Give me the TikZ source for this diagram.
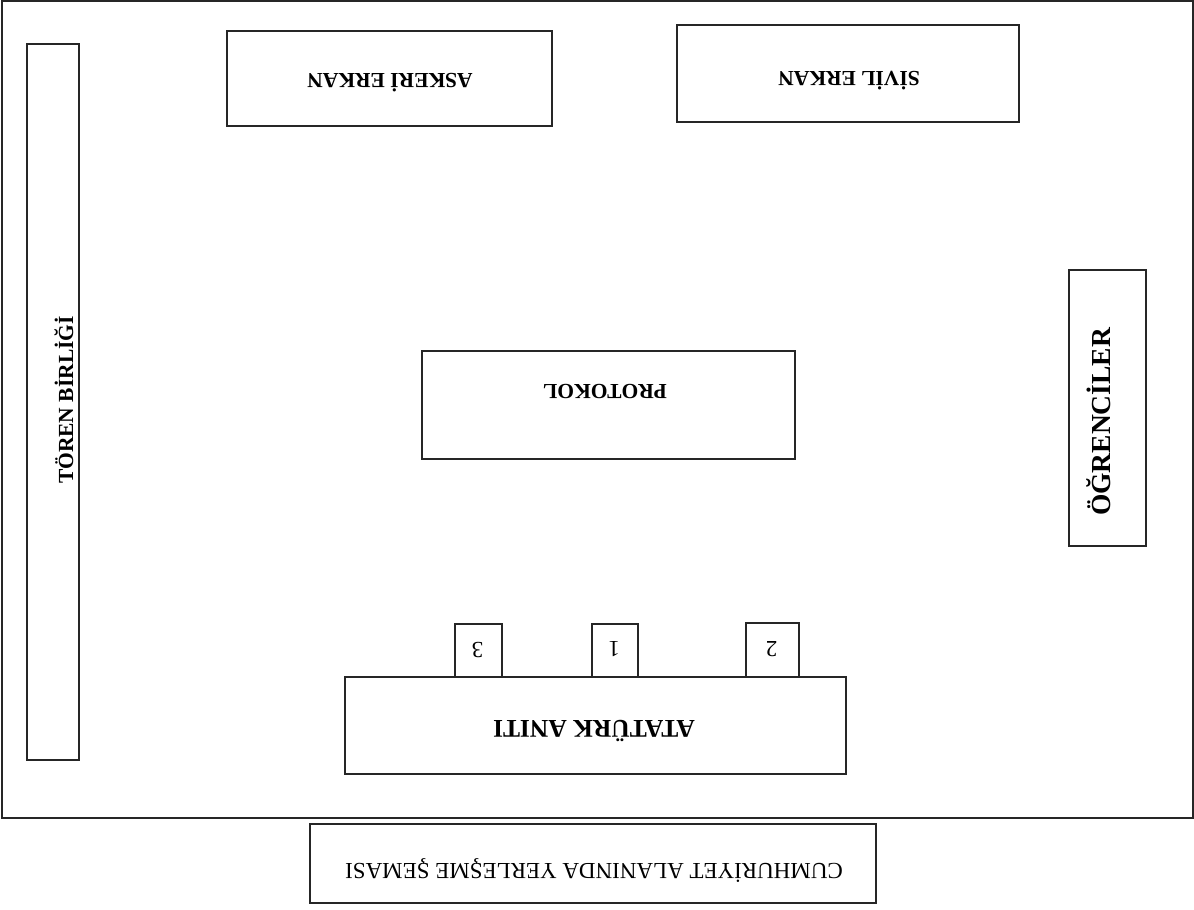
\documentclass[tikz,border=0pt]{standalone}
\usepackage{fontspec}
\setmainfont{Liberation Serif}
\begin{document}
\begin{tikzpicture}[x=1pt,y=-1pt,
  box/.style={draw=black!85, line width=1.2pt, inner sep=0pt, outer sep=0pt, rectangle},
  txt/.style={inner sep=0pt, outer sep=0pt, text depth=0pt},
  lbl/.style={txt, font=\fontsize{21.5}{25}\selectfont\bfseries, text height=14.2pt},
  num/.style={txt, font=\fontsize{23}{26}\selectfont, text height=15.5pt}]
\useasboundingbox (0,0) rectangle (1194,910);
% frame
\node[box, minimum width=1191, minimum height=817] (frame) at (597.5,409.5) {};
% boxes
\node[box, minimum width=52, minimum height=716] (toren) at (53,402) {};
\node[box, minimum width=325, minimum height=95] (askeri) at (389.5,78.5) {};
\node[box, minimum width=342, minimum height=97] (sivil) at (848,73.5) {};
\node[box, minimum width=77, minimum height=276] (ogr) at (1107.5,408) {};
\node[box, minimum width=373, minimum height=108] (protokol) at (608.5,405) {};
\node[box, minimum width=501, minimum height=97] (anit) at (595.5,725.5) {};
\node[box, minimum width=47, minimum height=53] (b3) at (478.5,650.5) {};
\node[box, minimum width=46, minimum height=53] (b1) at (615,650.5) {};
\node[box, minimum width=53, minimum height=54] (b2) at (772.5,650) {};
\node[box, minimum width=566, minimum height=79] (title) at (593,863.5) {};
% labels
\node[lbl, rotate=90] (torent) at (66,400) {TÖREN BİRLİĞİ};
\node[lbl, rotate=180] (askerit) at (390,81) {ASKERİ ERKAN};
\node[lbl, rotate=180] (sivilt) at (849,78.5) {SİVİL ERKAN};
\node[lbl, rotate=90, font=\fontsize{27.5}{31}\selectfont\bfseries, text height=17pt] (ogrt) at (1101.5,422) {ÖĞRENCİLER};
\node[lbl, rotate=180] (protokolt) at (605,392) {PROTOKOL};
\node[lbl, rotate=180, font=\fontsize{25.5}{29}\selectfont\bfseries, text height=16.8pt] (anitt) at (594,729) {ATATÜRK ANITI};
\node[num, rotate=180] (b3t) at (477.5,650) {3};
\node[num, rotate=180] (b1t) at (614,649) {1};
\node[num, rotate=180] (b2t) at (771.5,649.5) {2};
\node[txt, rotate=180, font=\fontsize{23}{27}\selectfont, text height=15.2pt] (titlet) at (594,871.5) {CUMHURİYET ALANINDA YERLEŞME ŞEMASI};
\end{tikzpicture}
\end{document}
